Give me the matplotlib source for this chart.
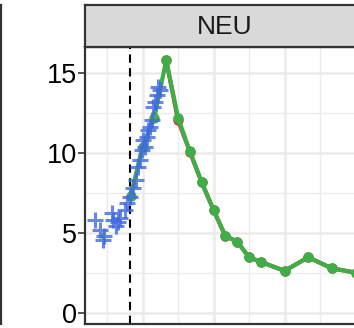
import numpy as np
import matplotlib
matplotlib.use("Agg")
import matplotlib.pyplot as plt
from matplotlib.lines import Line2D

plt.rcParams['font.family'] = ['Liberation Sans', 'DejaVu Sans']

# observed values (blue crosses)
obs_x = [-1.0, -0.59, -0.31, -0.25, 0.40, 0.53, 0.76, 0.96, 1.10, 1.52, 1.67, 1.94,
         2.22, 2.45, 2.65, 2.79, 2.93, 3.07, 3.21, 3.36, 3.49, 3.63, 3.78, 3.91,
         4.06, 4.20, 4.34, 4.48]
obs_y = [5.81, 5.19, 4.56, 4.81, 6.23, 5.81, 5.44, 5.71, 5.92, 6.44, 6.86, 7.27,
         7.79, 8.31, 9.14, 9.56, 10.19, 10.81, 10.39, 11.02, 11.44, 11.64, 12.06, 12.89,
         13.21, 13.63, 14.14, 13.94]

# model series (green) and second series (red, underneath)
fit_x = [2, 3, 4, 5, 6, 7, 8, 9, 10, 11, 12, 13, 15, 17, 19, 21]
fit_y = [7.3, 10.4, 12.2, 15.8, 12.2, 10.1, 8.17, 6.44, 4.81, 4.46, 3.48, 3.19, 2.63, 3.48, 2.79, 2.52]
red_x = [5, 6, 7, 8, 9, 10, 11, 12, 13, 15, 17, 19, 21]
red_y = [15.8, 12.05, 10.08, 8.17, 6.44, 4.81, 4.46, 3.48, 3.19, 2.63, 3.48, 2.79, 2.52]

vline_x = 1.95
strip_label = "NEU"

W, H = 354, 328
fig = plt.figure(figsize=(W / 100, H / 100), dpi=100)

# panel from x=85 to 365 px, y=47 to 324 px
left, right = 85, 365
top, bottom = 47, 324
ax = fig.add_axes([left / W, 1 - bottom / H, (right - left) / W, (bottom - top) / H])

ax.set_xlim(-1.86, 21.8)
ax.set_ylim(-0.69, 16.625)

ax.set_xticks([3, 9, 15, 21])
ax.set_xticks([0, 6, 12, 18], minor=True)
ax.set_yticks([0, 5, 10, 15])
ax.set_yticks([2.5, 7.5, 12.5], minor=True)
ax.grid(which='major', color='#EBEBEB', linewidth=1.8)
ax.grid(which='minor', color='#EBEBEB', linewidth=1.0)
ax.set_axisbelow(True)

ax.tick_params(axis='x', which='both', length=0, labelbottom=False)
ax.tick_params(axis='y', which='major', length=5, width=1.2, color='#333333',
               labelsize=19.5, labelcolor='black', pad=1)
ax.tick_params(axis='y', which='minor', length=0)
for sp in ax.spines.values():
    sp.set_color('#333333')
    sp.set_linewidth(1.6)

ax.axvline(vline_x, color='black', linestyle=(0, (4, 2.6)), linewidth=1.5, zorder=2)

ax.plot(red_x, red_y, color='#E8303A', linewidth=3, marker='o', markersize=6.5,
        zorder=3, solid_capstyle='round')
ax.plot(fit_x, fit_y, color='#3DAE48', linewidth=3, marker='o', markersize=6.5,
        zorder=4, solid_capstyle='round')
ax.scatter(obs_x, obs_y, marker='+', s=140, linewidths=2.2, color='#4169E1', alpha=0.8, zorder=5)

# facet strip
strip = fig.add_axes([left / W, 1 - top / H, (right - left) / W, (top - 5) / H])
strip.set_xticks([])
strip.set_yticks([])
strip.set_facecolor('#D9D9D9')
for sp in strip.spines.values():
    sp.set_color('#333333')
    sp.set_linewidth(1.6)
strip.text(0.5, 0.47, strip_label, ha='center', va='center', fontsize=19, color='#1A1A1A',
           transform=strip.transAxes)

# border of neighbouring panel on the left edge
fig.add_artist(Line2D([1 / W, 1 / W], [1 - 324 / H, 1 - 5 / H], color='#333333', linewidth=1.6))

fig.savefig('out.png', dpi=100)
